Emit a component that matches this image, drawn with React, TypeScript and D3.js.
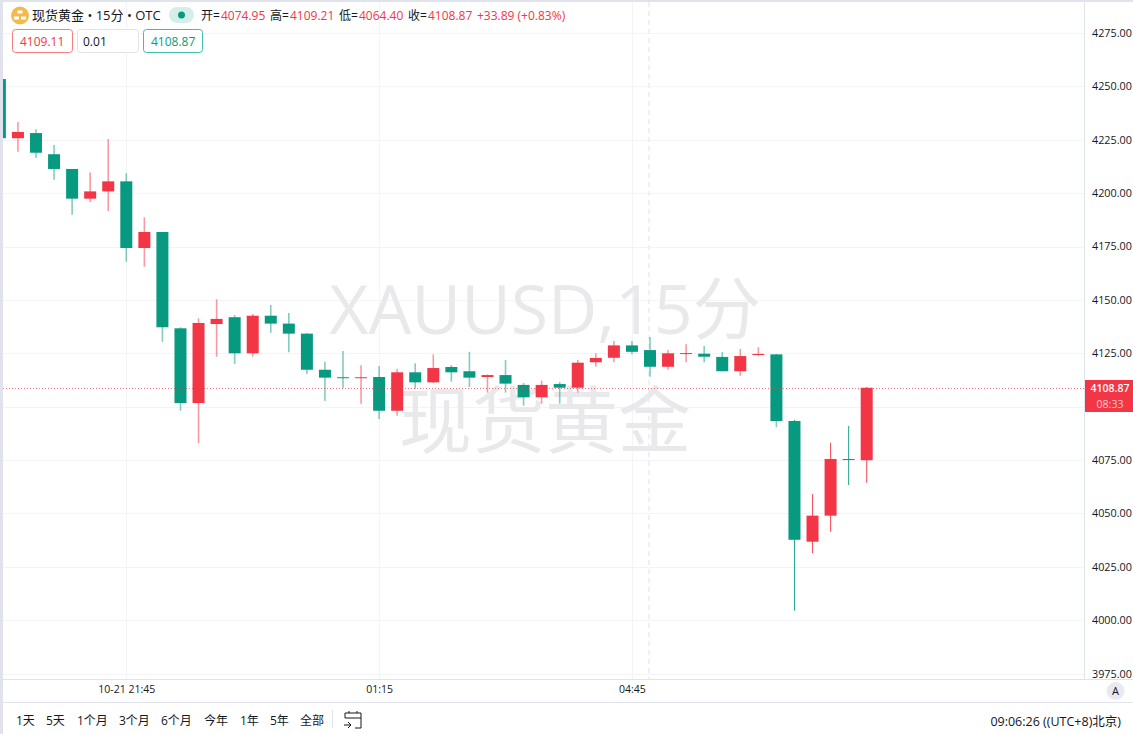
import React, { useEffect, useRef } from 'react';
import * as d3 from 'd3';

// 15 minute bars, first one is 10-21 20:00
const barIndex = d3.range(-1, 48);
const opens = [4253.4, 4225.7, 4228.1, 4218.2, 4211.3, 4197.4, 4200.8, 4205.5, 4174.3, 4181.8, 4136.7, 4101.7, 4138.7, 4141.9, 4125, 4142.6, 4138.9, 4134.2, 4117.3, 4113.8, 4113.7, 4113.9, 4098.1, 4116.1, 4111.4, 4118.6, 4116.6, 4113.9, 4114.8, 4110.2, 4104.4, 4110.6, 4108.9, 4120.8, 4122.9, 4128.7, 4126.5, 4118.7, 4125, 4124.8, 4123.3, 4116.6, 4124.2, 4124.5, 4093.3, 4036.8, 4049, 4075.5, 4074.95];
const highs = [4253.4, 4233.3, 4229.9, 4222.5, 4211.3, 4209.7, 4225.3, 4209.3, 4188.7, 4181.8, 4137.2, 4141.4, 4150.3, 4142.9, 4143.4, 4147.6, 4143.9, 4134.5, 4121.1, 4126.1, 4119.4, 4119.1, 4117.6, 4120.3, 4124.5, 4119.5, 4125.7, 4115.1, 4121.9, 4111.1, 4112.2, 4111.6, 4121.9, 4125, 4130.8, 4130.8, 4132.6, 4126.5, 4129.2, 4128.4, 4125.6, 4127, 4127.8, 4124.7, 4093.8, 4059.1, 4083.1, 4091, 4109.21];
const lows = [4225.7, 4219.4, 4216.4, 4206.3, 4189.9, 4195.8, 4191.6, 4167.9, 4165.5, 4130.4, 4098.1, 4082.9, 4123.4, 4120, 4123.4, 4134.6, 4125.5, 4115.3, 4102.7, 4108.8, 4101.4, 4094.2, 4095.8, 4108.4, 4111.1, 4111.7, 4109.2, 4106.6, 4106.6, 4100.5, 4101.4, 4101.4, 4106.6, 4118.7, 4120.8, 4124.5, 4114, 4117.3, 4120.8, 4120.8, 4116.6, 4114.5, 4123.7, 4090.4, 4004.5, 4031.4, 4041.5, 4063.3, 4064.4];
const closes = [4225.7, 4228.6, 4218.9, 4211.3, 4197.4, 4200.8, 4205.5, 4174.3, 4181.8, 4137.2, 4101.7, 4139.2, 4141.1, 4125, 4142.6, 4138.9, 4134.2, 4117.3, 4113.6, 4113.6, 4113.8, 4098.1, 4116.1, 4111.4, 4118.1, 4116.1, 4113.6, 4114.8, 4110.8, 4104.4, 4110.2, 4108.9, 4120.6, 4122.8, 4128.7, 4125.7, 4118.7, 4125, 4125.1, 4123.4, 4116.6, 4123.7, 4124.7, 4093.3, 4037.7, 4049, 4075.5, 4075.3, 4108.87];

const priceTicks = d3.range(3975, 4276, 25);
// 4100 sits under the last price tag, so it gets a grid line but no label
const priceLabels = priceTicks.filter(d => d !== 4100);
const timeTicks = [6, 20, 34];
const timeLabels = ['10-21 21:45', '01:15', '04:45'];
const lastClose = 4108.87;
const rangeButtons = ['1天', '5天', '1个月', '3个月', '6个月', '今年', '1年', '5年', '全部'];
const rangeButtonX = [16, 46, 77, 119, 161, 204, 240, 270, 300];

const UP = '#f23645';
const DOWN = '#089981';
const GRID = '#f3f4f8';
const BORDER = '#e0e3eb';
const TEXT = '#131722';
const FONT = '"Open Sans", "Noto Sans CJK SC", sans-serif';

const App = () => {
  const svgRef = useRef<SVGSVGElement>(null);

  useEffect(() => {
    const svg = d3.select(svgRef.current);
    svg.selectAll('*').remove();

    const width = 1133;
    const height = 734;
    const plotRight = 1084;
    const plotBottom = 679;

    const x = d3.scaleLinear().domain([6, 47]).range([126.3, 866.7]);
    const y = d3.scaleLinear().domain([4000, 4275]).range([620.3, 32.9]);

    svg.attr('width', width).attr('height', height).style('font-family', FONT);

    svg.append('defs').append('clipPath').attr('id', 'plot')
      .append('rect').attr('x', 3).attr('y', 0).attr('width', plotRight - 3).attr('height', plotBottom);

    const plot = svg.append('g').attr('clip-path', 'url(#plot)');

    // grid
    plot.selectAll('.hgrid').data(priceTicks).enter().append('line')
      .attr('x1', 3).attr('x2', plotRight)
      .attr('y1', d => Math.round(y(d)) + 0.5).attr('y2', d => Math.round(y(d)) + 0.5)
      .attr('stroke', GRID);
    plot.selectAll('.vgrid').data(timeTicks).enter().append('line')
      .attr('x1', d => Math.round(x(d)) + 0.5).attr('x2', d => Math.round(x(d)) + 0.5)
      .attr('y1', 0).attr('y2', plotBottom)
      .attr('stroke', GRID);

    // crosshair left on the chart
    plot.append('line')
      .attr('x1', 649).attr('x2', 649).attr('y1', 2).attr('y2', plotBottom)
      .attr('stroke', '#eff0f4').attr('stroke-width', 2).attr('stroke-dasharray', '5 4');

    // watermark
    plot.append('text').attr('x', 545).attr('y', 334).attr('text-anchor', 'middle')
      .attr('font-size', 68).attr('fill', '#e9e9eb').text('XAUUSD,15分');
    plot.append('text').attr('x', 545).attr('y', 447).attr('text-anchor', 'middle')
      .attr('font-size', 73).attr('fill', '#e9e9eb').text('现货黄金');

    // candles
    const isUp = (i: number) => closes[i] >= opens[i];
    const bars = plot.selectAll('.bar').data(barIndex).enter().append('g').attr('class', 'bar');
    bars.append('line')
      .attr('x1', d => x(d)).attr('x2', d => x(d))
      .attr('y1', (d, i) => y(highs[i])).attr('y2', (d, i) => y(lows[i]))
      .attr('stroke', (d, i) => (isUp(i) ? UP : DOWN))
      .attr('stroke-opacity', d => (d >= 43 ? 0.85 : 0.5))
      .attr('stroke-width', d => (d >= 43 ? 1.1 : 1.6));
    bars.append('rect')
      .attr('x', d => x(d) - 6).attr('width', 12)
      .attr('y', (d, i) => y(Math.max(opens[i], closes[i])))
      .attr('height', (d, i) => Math.max(1, Math.abs(y(opens[i]) - y(closes[i]))))
      .attr('fill', (d, i) => (isUp(i) ? UP : DOWN));

    // last price line
    plot.append('line')
      .attr('x1', 3).attr('x2', plotRight)
      .attr('y1', Math.round(y(lastClose)) + 0.5).attr('y2', Math.round(y(lastClose)) + 0.5)
      .attr('stroke', UP).attr('stroke-opacity', 0.7).attr('stroke-dasharray', '1 2');

    // price axis
    const yAxis = d3.axisRight(y).tickValues(priceLabels).tickFormat(d3.format('.2f')).tickSize(0).tickPadding(8);
    const yG = svg.append('g').attr('transform', `translate(${plotRight},0)`).call(yAxis);
    yG.select('.domain').remove();
    yG.selectAll('text').attr('font-size', 10.8).attr('font-family', FONT).attr('fill', TEXT);

    svg.append('rect').attr('x', plotRight + 1).attr('y', Math.round(y(lastClose)) - 8).attr('width', 48).attr('height', 32).attr('fill', UP);
    svg.append('text').attr('x', 1110).attr('y', y(lastClose) + 4).attr('text-anchor', 'middle').attr('font-size', 10.5).attr('font-weight', 600).attr('fill', '#fff').text(lastClose.toFixed(2));
    svg.append('text').attr('x', 1110).attr('y', y(lastClose) + 20).attr('text-anchor', 'middle').attr('font-size', 10.5).attr('fill', '#fff').attr('fill-opacity', 0.75).text('08:33');

    // time axis
    const xAxis = d3.axisBottom(x).tickValues(timeTicks).tickFormat((d, i) => timeLabels[i]).tickSize(0).tickPadding(7);
    const xG = svg.append('g').attr('transform', `translate(0,${plotBottom})`).call(xAxis);
    xG.select('.domain').remove();
    xG.selectAll('text').attr('font-size', 10.5).attr('font-family', FONT).attr('fill', TEXT);

    // frame lines
    const frame = [
      [0, plotBottom + 0.5, width, plotBottom + 0.5],
      [0, 702.5, width, 702.5],
      [plotRight + 0.5, 0, plotRight + 0.5, plotBottom],
    ];
    svg.selectAll('.frame').data(frame).enter().append('line')
      .attr('x1', d => d[0]).attr('y1', d => d[1]).attr('x2', d => d[2]).attr('y2', d => d[3])
      .attr('stroke', BORDER);
    svg.append('rect').attr('width', 3).attr('height', height).attr('fill', BORDER);
    svg.append('rect').attr('width', width).attr('height', 2).attr('fill', BORDER);

    // auto scale button
    svg.append('circle').attr('cx', 1115.5).attr('cy', 691).attr('r', 9).attr('fill', '#e8eaf0');
    svg.append('text').attr('x', 1115.5).attr('y', 695).attr('text-anchor', 'middle').attr('font-size', 11).attr('fill', TEXT).text('A');

    // legend line
    svg.append('circle').attr('cx', 20).attr('cy', 15.5).attr('r', 9).attr('fill', '#f2b94b');
    [[20, 12], [16.5, 18], [23.5, 18]].forEach(p => {
      svg.append('rect').attr('x', p[0] - 2.5).attr('y', p[1] - 1.5).attr('width', 5).attr('height', 3).attr('fill', '#fff');
    });
    const label = (tx: number, ty: number, s: string, fill: string, size = 12) =>
      svg.append('text').attr('x', tx).attr('y', ty).attr('font-size', size).attr('fill', fill).text(s);

    label(32, 20, '现货黄金 • 15分 • OTC', TEXT, 13);
    svg.append('rect').attr('x', 169).attr('y', 7).attr('width', 25).attr('height', 16).attr('rx', 8).attr('fill', '#d5eee9');
    svg.append('circle').attr('cx', 181.5).attr('cy', 15).attr('r', 3.5).attr('fill', DOWN);

    const legendItems = [
      [201, '开=', '4074.95'],
      [270, '高=', '4109.21'],
      [339, '低=', '4064.40'],
      [408, '收=', '4108.87'],
    ];
    legendItems.forEach(it => {
      label(it[0] as number, 20, it[1] as string, TEXT);
      label((it[0] as number) + 20, 20, it[2] as string, UP);
    });
    label(477, 20, '+33.89 (+0.83%)', UP);

    // order boxes
    const boxes = [
      [12, 60, '#f77c80', '4109.11', UP, 20],
      [77, 61, '#e0e3eb', '0.01', TEXT, 83],
      [143, 59, '#42bda8', '4108.87', DOWN, 151],
    ];
    boxes.forEach(b => {
      svg.append('rect').attr('x', (b[0] as number) + 0.5).attr('y', 29.5).attr('width', b[1]).attr('height', 23).attr('rx', 3).attr('fill', '#fff').attr('stroke', b[2] as string);
      label(b[5] as number, 45.5, b[3] as string, b[4] as string);
    });

    // bottom toolbar
    rangeButtons.forEach((s, i) => label(rangeButtonX[i], 725, s, TEXT, 12));
    svg.append('line').attr('x1', 332.5).attr('x2', 332.5).attr('y1', 710).attr('y2', 728).attr('stroke', BORDER);
    svg.append('path').attr('d', 'M345 718v-5h16v15h-6M345 718h16M349 713v-2M357 713v-2M344 725h7M348 722l3 3-3 3')
      .attr('fill', 'none').attr('stroke', TEXT);
    svg.append('text').attr('x', 1121).attr('y', 726).attr('text-anchor', 'end').attr('font-size', 12.5).attr('fill', TEXT).text('09:06:26 ((UTC+8)北京)');
  }, []);

  return <svg ref={svgRef} style={{ position: 'absolute', left: 0, top: 0, background: '#fff' }} />;
};

export default App;
